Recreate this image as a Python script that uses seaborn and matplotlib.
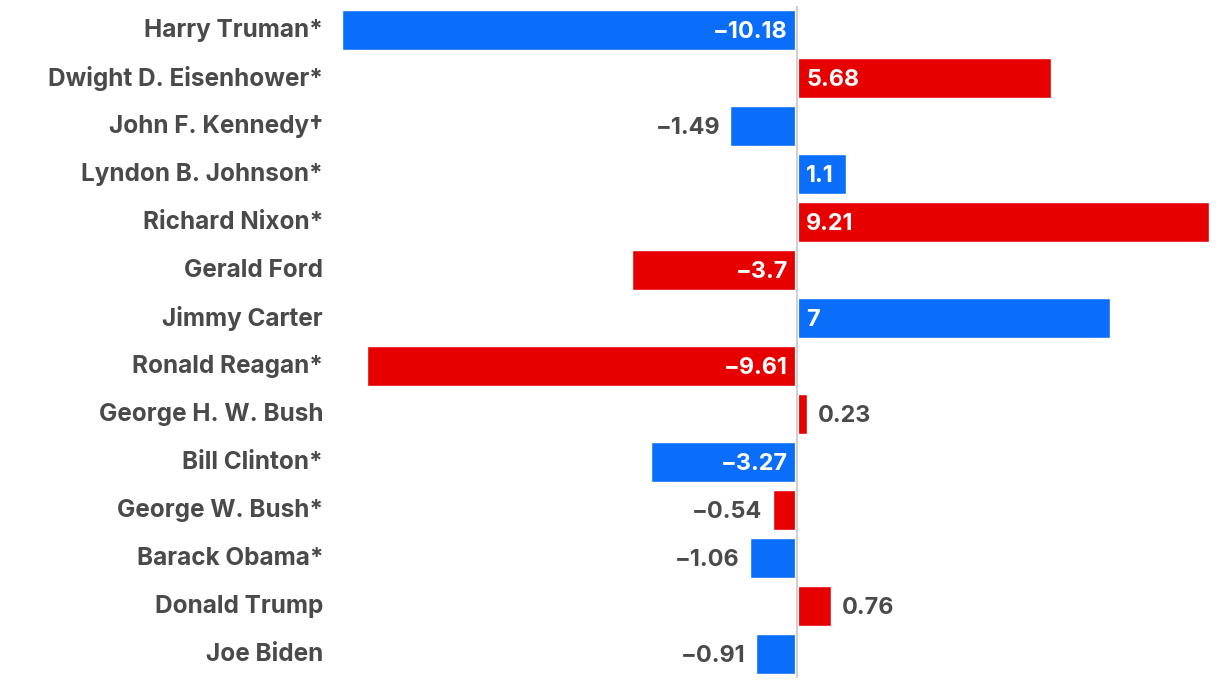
import matplotlib

matplotlib.use("Agg")
import matplotlib.pyplot as plt
import pandas as pd
import seaborn as sns

PRESIDENTS = [
    "Harry Truman*",
    "Dwight D. Eisenhower*",
    "John F. Kennedy\u2020",
    "Lyndon B. Johnson*",
    "Richard Nixon*",
    "Gerald Ford",
    "Jimmy Carter",
    "Ronald Reagan*",
    "George H. W. Bush",
    "Bill Clinton*",
    "George W. Bush*",
    "Barack Obama*",
    "Donald Trump",
    "Joe Biden",
]
VALUES = [-10.18, 5.68, -1.49, 1.1, 9.21, -3.7, 7, -9.61, 0.23, -3.27, -0.54, -1.06, 0.76, -0.91]
PARTIES = ["D", "R", "D", "D", "R", "R", "D", "R", "R", "D", "R", "D", "R", "D"]

PALETTE = {"D": "#0B6EFA", "R": "#E60000"}
TEXT_GRAY = "#4a4a4a"
FONT = ["Inter", "DejaVu Sans"]


def fmt(v: float) -> str:
    s = f"{abs(v):g}"
    return ("\u2212" + s) if v < 0 else s


def main() -> None:
    sns.set_style("white")
    plt.rcParams["font.family"] = FONT

    df = pd.DataFrame({"name": PRESIDENTS, "value": VALUES, "party": PARTIES})

    fig = plt.figure(figsize=(12.2, 6.84), dpi=100)
    ax = fig.add_axes([330 / 1220, 1 - 678 / 684, (1215 - 330) / 1220, 672 / 684])

    sns.barplot(
        data=df,
        x="value",
        y="name",
        hue="party",
        palette=PALETTE,
        order=PRESIDENTS,
        orient="h",
        dodge=False,
        legend=False,
        width=0.84,
        saturation=1,
        ax=ax,
    )

    px_per_unit = 44.71
    ax.set_xlim(-(797 - 330) / px_per_unit, (1215 - 797) / px_per_unit)
    ax.set_ylim(len(PRESIDENTS) - 0.5, -0.5)
    ax.axvline(0, color="white", lw=3, zorder=4)
    ax.axvline(0, color="#cccccc", lw=1.3, zorder=5)

    ax.set_xlabel("")
    ax.set_ylabel("")
    ax.set_xticks([])
    ax.tick_params(axis="y", length=0, pad=5)
    for lab in ax.get_yticklabels():
        lab.set_fontsize(17.5)
        lab.set_fontweight("bold")
        lab.set_color(TEXT_GRAY)
        lab.set_family(FONT)
        lab.set_va("center")
    sns.despine(ax=ax, left=True, bottom=True)

    renderer = fig.canvas.get_renderer()
    pad_pt = 6.5
    for i, v in enumerate(VALUES):
        label = fmt(v)
        sign = 1 if v >= 0 else -1
        t = ax.annotate(
            label,
            xy=(0, i),
            xytext=(sign * pad_pt, -1.5),
            textcoords="offset points",
            ha="left" if v >= 0 else "right",
            va="center",
            fontsize=16.8,
            fontweight="bold",
            color="white",
            family=FONT,
            zorder=6,
        )
        text_w = t.get_window_extent(renderer=renderer).width
        bar_w = abs(v) * px_per_unit
        if text_w + pad_pt * 100 / 72 > bar_w:
            # doesn't fit inside: move past the end of the bar
            t.xy = (v, i)
            t.set_color(TEXT_GRAY)
            t.set_position((sign * 7.5, -1.5))

    fig.patch.set_facecolor("white")
    fig.savefig("out.png", dpi=100, facecolor="white")
    plt.close(fig)


if __name__ == "__main__":
    main()
